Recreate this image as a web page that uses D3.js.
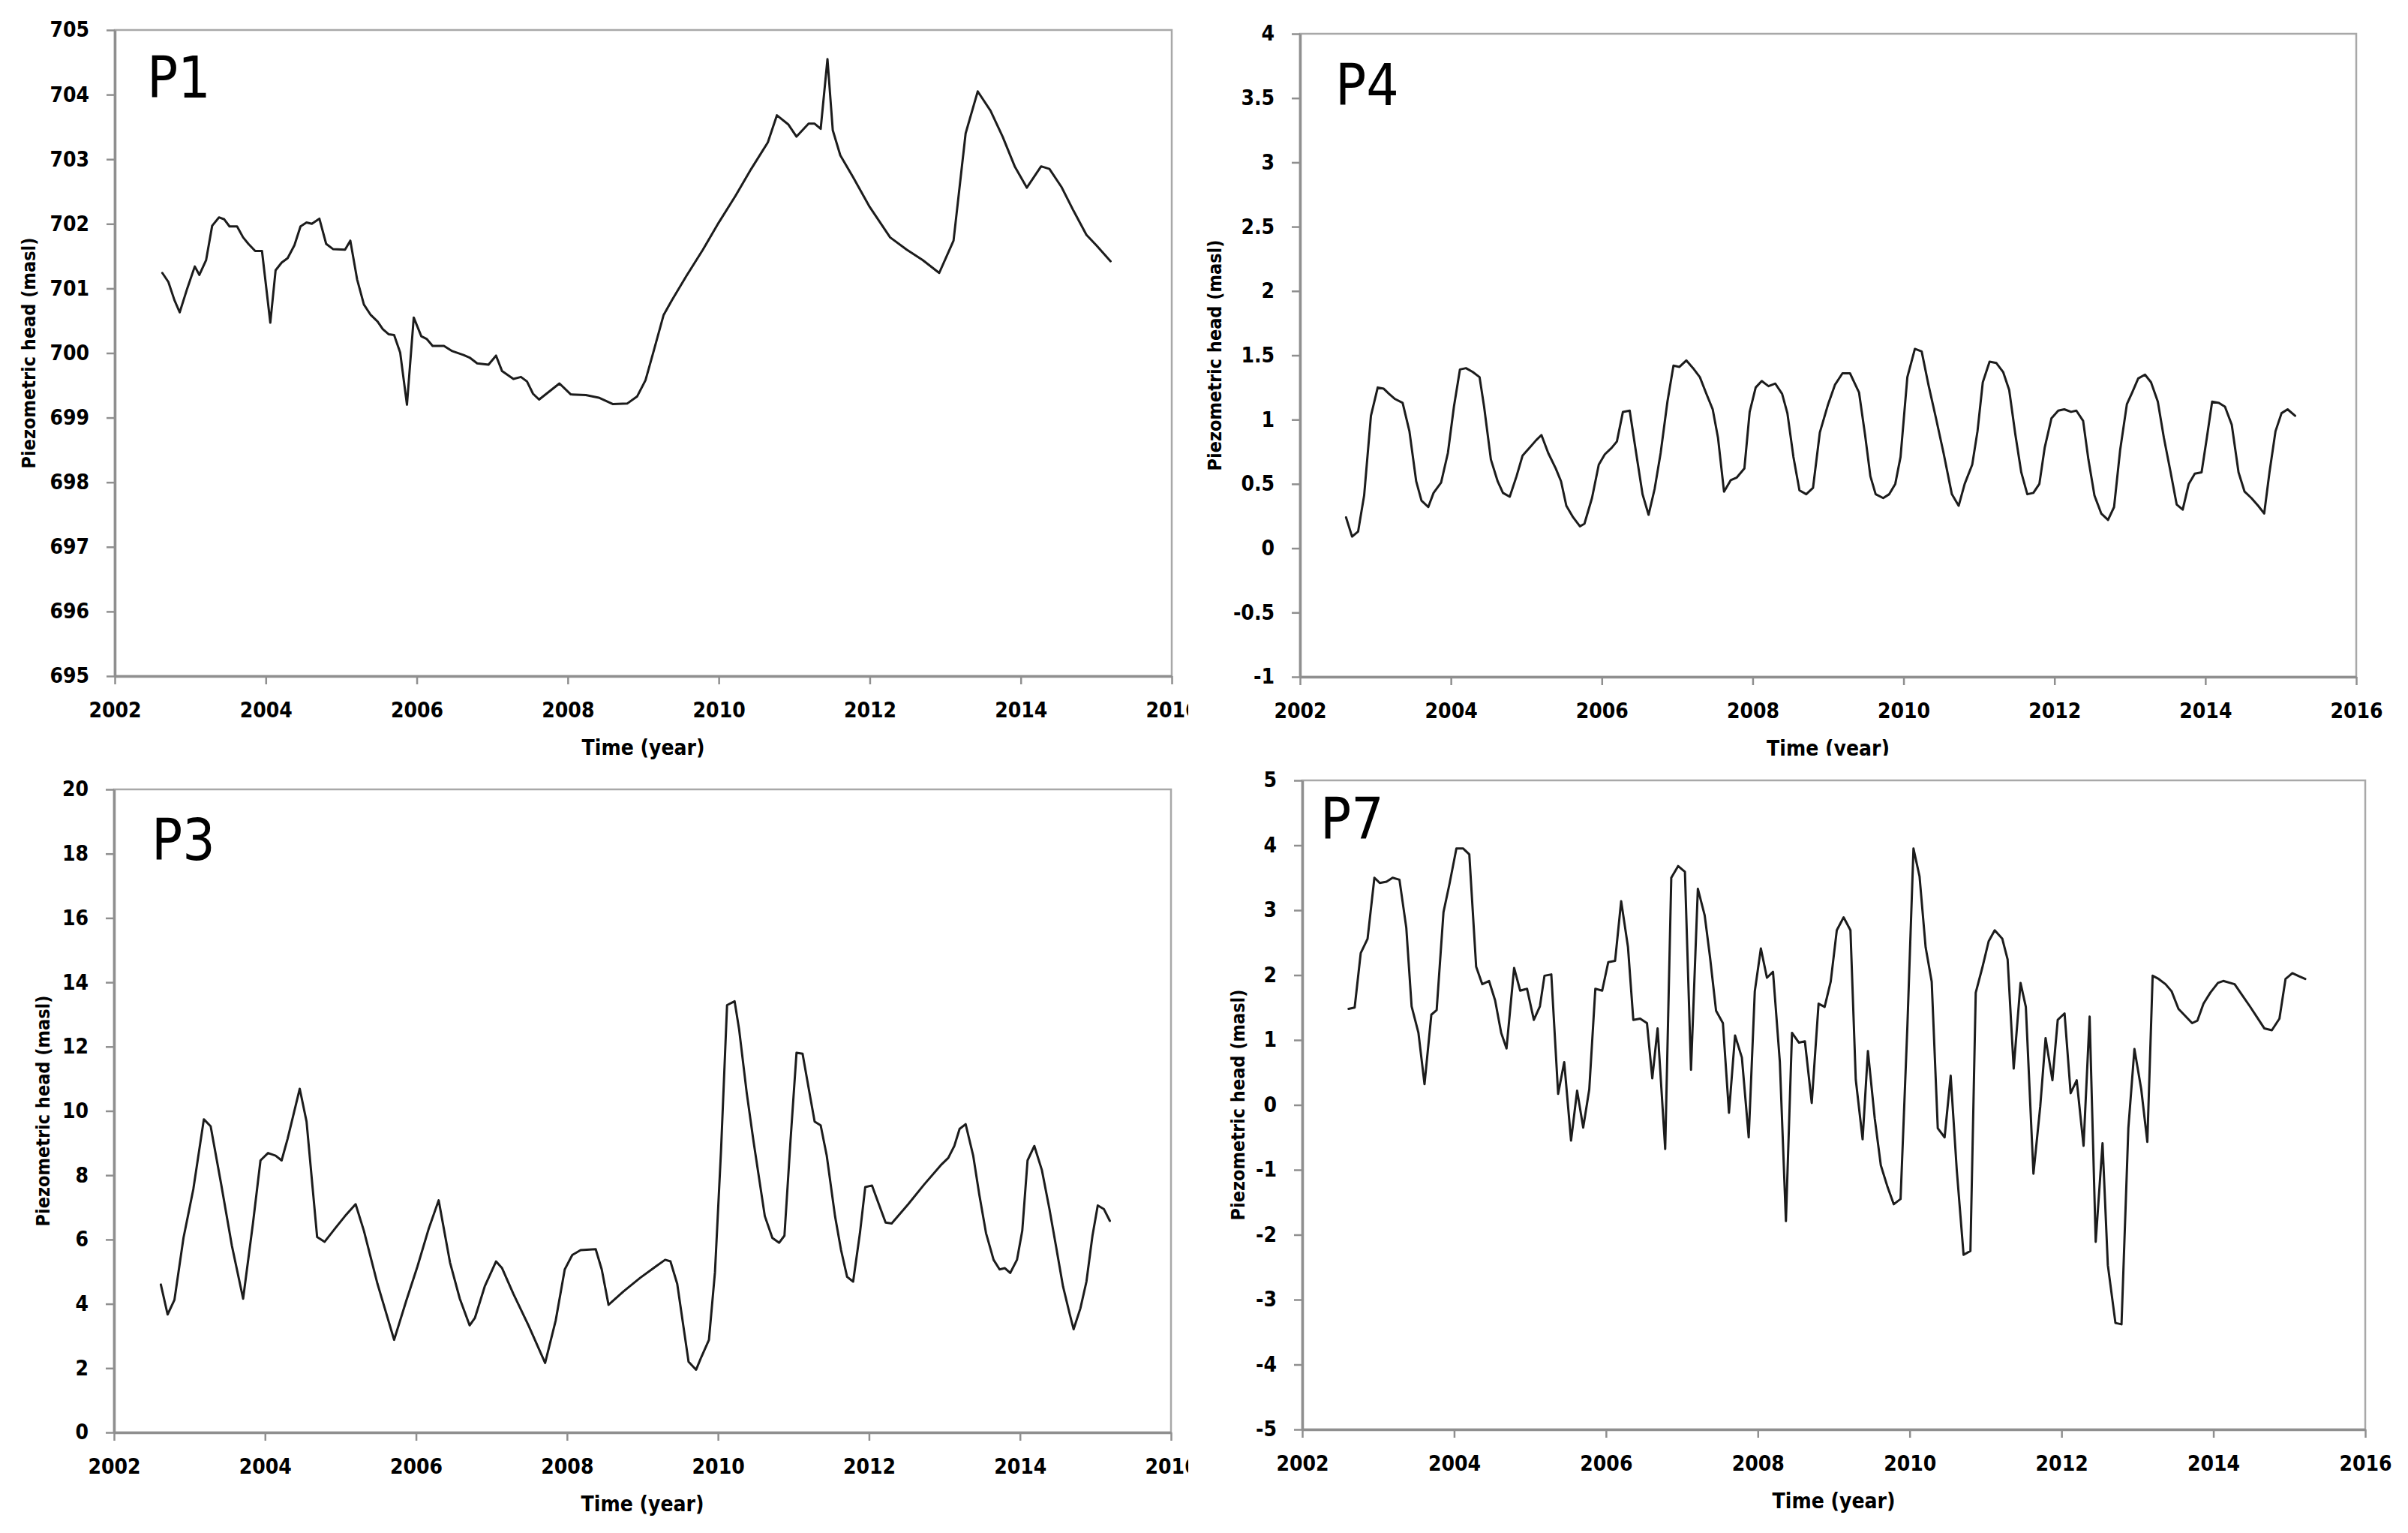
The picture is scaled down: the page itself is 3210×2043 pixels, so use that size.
<!DOCTYPE html>
<html>
<head>
<meta charset="utf-8">
<script src="https://cdn.jsdelivr.net/npm/d3@7"></script>
<style>
  html, body { margin: 0; padding: 0; background: #ffffff; }
  svg { display: block; }
  .tick text, .axis-title, .y-title {
    font-family: 'DejaVu Sans Condensed', 'DejaVu Sans', sans-serif;
    font-stretch: condensed;
    font-weight: bold;
    fill: #000;
  }
  .panel-name {
    font-family: 'DejaVu Sans Condensed', 'DejaVu Sans', sans-serif;
    font-stretch: condensed;
    font-weight: normal;
    fill: #000;
  }
</style>
</head>
<body>
<svg id="chart" width="3210" height="2043"></svg>
<script>
// ---------------- DATA ----------------
const yearTicks = [2002, 2004, 2006, 2008, 2010, 2012, 2014, 2016];

const p1Ticks = [695, 696, 697, 698, 699, 700, 701, 702, 703, 704, 705];
const p4Ticks = [-1, -0.5, 0, 0.5, 1, 1.5, 2, 2.5, 3, 3.5, 4];
const p3Ticks = [0, 2, 4, 6, 8, 10, 12, 14, 16, 18, 20];
const p7Ticks = [-5, -4, -3, -2, -1, 0, 1, 2, 3, 4, 5];

const p1Years = [2002.63,2002.71,2002.79,2002.86,2002.96,2003.06,2003.12,2003.21,2003.29,2003.38,2003.45,2003.52,2003.62,2003.70,2003.77,2003.86,2003.95,2004.06,2004.13,2004.21,2004.29,2004.38,2004.46,2004.54,2004.61,2004.71,2004.80,2004.89,2005.05,2005.12,2005.21,2005.30,2005.39,2005.48,2005.55,2005.63,2005.70,2005.78,2005.87,2005.96,2006.06,2006.13,2006.21,2006.36,2006.47,2006.62,2006.70,2006.80,2006.95,2007.05,2007.13,2007.28,2007.38,2007.46,2007.54,2007.62,2007.89,2008.04,2008.24,2008.41,2008.60,2008.79,2008.92,2009.03,2009.14,2009.27,2009.38,2009.57,2009.79,2010.00,2010.22,2010.43,2010.65,2010.77,2010.92,2011.03,2011.19,2011.27,2011.35,2011.44,2011.51,2011.61,2011.78,2012.00,2012.27,2012.49,2012.70,2012.92,2013.11,2013.27,2013.43,2013.60,2013.76,2013.92,2014.08,2014.27,2014.38,2014.54,2014.70,2014.87,2015.00,2015.19];
const p1Values = [701.24,701.10,700.82,700.63,701.00,701.34,701.21,701.44,701.97,702.10,702.07,701.96,701.96,701.79,701.69,701.58,701.58,700.47,701.28,701.40,701.47,701.67,701.96,702.02,702.00,702.08,701.69,701.61,701.60,701.74,701.14,700.75,700.59,700.49,700.37,700.29,700.28,700.01,699.20,700.55,700.26,700.22,700.11,700.11,700.03,699.97,699.93,699.84,699.82,699.96,699.72,699.60,699.63,699.56,699.37,699.28,699.53,699.36,699.35,699.31,699.21,699.22,699.33,699.58,700.04,700.59,700.82,701.19,701.60,702.02,702.43,702.85,703.26,703.68,703.54,703.35,703.55,703.55,703.47,704.55,703.45,703.06,702.72,702.26,701.79,701.60,701.44,701.24,701.74,703.40,704.05,703.75,703.35,702.89,702.56,702.89,702.85,702.57,702.20,701.83,701.67,701.42];

const p4Years = [2002.61,2002.69,2002.77,2002.85,2002.94,2003.03,2003.11,2003.18,2003.26,2003.36,2003.45,2003.54,2003.61,2003.70,2003.77,2003.87,2003.96,2004.04,2004.12,2004.20,2004.29,2004.38,2004.44,2004.53,2004.62,2004.69,2004.78,2004.87,2004.95,2005.04,2005.13,2005.20,2005.29,2005.39,2005.46,2005.53,2005.62,2005.71,2005.77,2005.87,2005.96,2006.04,2006.13,2006.20,2006.28,2006.37,2006.45,2006.54,2006.62,2006.70,2006.78,2006.87,2006.95,2007.03,2007.12,2007.21,2007.30,2007.38,2007.47,2007.54,2007.62,2007.71,2007.79,2007.89,2007.96,2008.04,2008.12,2008.21,2008.30,2008.39,2008.46,2008.54,2008.62,2008.71,2008.80,2008.89,2009.00,2009.09,2009.19,2009.29,2009.41,2009.49,2009.56,2009.63,2009.73,2009.81,2009.89,2009.96,2010.05,2010.15,2010.24,2010.33,2010.43,2010.53,2010.64,2010.73,2010.81,2010.91,2010.98,2011.05,2011.14,2011.23,2011.32,2011.40,2011.48,2011.56,2011.64,2011.72,2011.80,2011.87,2011.96,2012.05,2012.13,2012.22,2012.29,2012.38,2012.45,2012.53,2012.62,2012.71,2012.79,2012.87,2012.96,2013.03,2013.11,2013.20,2013.28,2013.37,2013.45,2013.54,2013.62,2013.70,2013.78,2013.86,2013.95,2014.02,2014.09,2014.18,2014.26,2014.35,2014.44,2014.52,2014.61,2014.70,2014.78,2014.85,2014.93,2015.01,2015.09,2015.19];
const p4Values = [0.24,0.09,0.13,0.41,1.03,1.25,1.24,1.20,1.16,1.13,0.91,0.52,0.37,0.32,0.43,0.51,0.74,1.10,1.39,1.40,1.37,1.33,1.10,0.69,0.52,0.43,0.40,0.56,0.72,0.78,0.84,0.88,0.74,0.62,0.52,0.33,0.24,0.17,0.19,0.39,0.65,0.73,0.78,0.83,1.06,1.07,0.76,0.42,0.26,0.46,0.74,1.14,1.42,1.41,1.46,1.40,1.33,1.21,1.08,0.86,0.44,0.53,0.55,0.62,1.06,1.25,1.30,1.26,1.28,1.20,1.05,0.71,0.45,0.42,0.47,0.90,1.12,1.27,1.36,1.36,1.21,0.88,0.56,0.42,0.39,0.42,0.50,0.71,1.33,1.55,1.53,1.27,1.01,0.74,0.42,0.33,0.50,0.65,0.91,1.29,1.45,1.44,1.37,1.23,0.89,0.59,0.42,0.43,0.50,0.78,1.01,1.07,1.08,1.06,1.07,0.99,0.69,0.41,0.27,0.22,0.32,0.76,1.12,1.21,1.32,1.35,1.29,1.14,0.86,0.59,0.34,0.30,0.50,0.58,0.59,0.86,1.14,1.13,1.10,0.96,0.59,0.44,0.39,0.33,0.27,0.59,0.91,1.05,1.08,1.03];

const p3Years = [2002.62,2002.71,2002.80,2002.92,2003.05,2003.19,2003.28,2003.42,2003.56,2003.71,2003.84,2003.94,2004.04,2004.14,2004.22,2004.30,2004.46,2004.55,2004.69,2004.79,2004.93,2005.06,2005.20,2005.31,2005.49,2005.71,2005.87,2006.02,2006.17,2006.30,2006.45,2006.58,2006.71,2006.78,2006.91,2007.06,2007.14,2007.29,2007.49,2007.71,2007.85,2007.97,2008.07,2008.18,2008.38,2008.46,2008.55,2008.75,2008.97,2009.18,2009.30,2009.37,2009.46,2009.61,2009.71,2009.78,2009.88,2009.96,2010.04,2010.12,2010.22,2010.28,2010.38,2010.47,2010.62,2010.72,2010.81,2010.88,2010.96,2011.04,2011.12,2011.20,2011.28,2011.36,2011.44,2011.55,2011.63,2011.71,2011.79,2011.88,2011.95,2012.04,2012.13,2012.22,2012.30,2012.52,2012.73,2012.95,2013.05,2013.13,2013.20,2013.28,2013.38,2013.46,2013.55,2013.65,2013.73,2013.80,2013.87,2013.96,2014.03,2014.10,2014.19,2014.29,2014.39,2014.48,2014.57,2014.66,2014.71,2014.80,2014.88,2014.96,2015.03,2015.11,2015.19];
const p3Values = [4.60,3.67,4.12,6.05,7.56,9.74,9.52,7.71,5.82,4.16,6.50,8.46,8.69,8.61,8.46,9.14,10.69,9.67,6.08,5.93,6.35,6.73,7.10,6.27,4.62,2.88,4.09,5.17,6.35,7.22,5.29,4.16,3.33,3.56,4.54,5.32,5.11,4.31,3.33,2.16,3.48,5.07,5.52,5.67,5.70,5.07,3.97,4.39,4.81,5.17,5.37,5.32,4.62,2.20,1.95,2.35,2.88,4.99,8.76,13.29,13.41,12.53,10.57,9.06,6.73,6.05,5.90,6.12,9.06,11.81,11.78,10.72,9.67,9.55,8.61,6.73,5.67,4.84,4.69,6.20,7.63,7.68,7.10,6.53,6.50,7.10,7.71,8.31,8.54,8.91,9.44,9.59,8.61,7.41,6.20,5.37,5.07,5.11,4.96,5.37,6.27,8.46,8.91,8.16,6.95,5.75,4.54,3.67,3.21,3.86,4.69,6.12,7.06,6.95,6.58];

const p7Years = [2002.61,2002.69,2002.77,2002.86,2002.95,2003.02,2003.11,2003.19,2003.28,2003.37,2003.44,2003.53,2003.61,2003.70,2003.77,2003.86,2003.94,2004.03,2004.12,2004.20,2004.29,2004.37,2004.46,2004.54,2004.62,2004.69,2004.79,2004.87,2004.96,2005.05,2005.13,2005.19,2005.28,2005.37,2005.45,2005.54,2005.62,2005.70,2005.78,2005.86,2005.95,2006.03,2006.12,2006.20,2006.29,2006.36,2006.45,2006.54,2006.61,2006.68,2006.78,2006.86,2006.95,2007.04,2007.12,2007.21,2007.30,2007.37,2007.45,2007.54,2007.62,2007.70,2007.79,2007.88,2007.96,2008.04,2008.12,2008.20,2008.29,2008.37,2008.45,2008.54,2008.62,2008.71,2008.80,2008.88,2008.96,2009.04,2009.13,2009.22,2009.29,2009.38,2009.45,2009.54,2009.62,2009.71,2009.79,2009.88,2009.97,2010.05,2010.13,2010.21,2010.29,2010.37,2010.46,2010.54,2010.62,2010.71,2010.80,2010.87,2010.96,2011.04,2011.12,2011.22,2011.29,2011.37,2011.46,2011.53,2011.63,2011.72,2011.79,2011.88,2011.95,2012.04,2012.12,2012.20,2012.29,2012.37,2012.45,2012.54,2012.61,2012.71,2012.79,2012.88,2012.96,2013.05,2013.13,2013.20,2013.28,2013.37,2013.45,2013.54,2013.63,2013.72,2013.79,2013.87,2013.96,2014.06,2014.13,2014.28,2014.38,2014.48,2014.57,2014.67,2014.77,2014.87,2014.95,2015.04,2015.13,2015.21];
const p7Values = [1.48,1.50,2.34,2.56,3.50,3.42,3.44,3.50,3.47,2.73,1.52,1.11,0.32,1.39,1.46,2.97,3.41,3.95,3.95,3.86,2.13,1.86,1.91,1.61,1.11,0.87,2.11,1.76,1.79,1.31,1.52,1.99,2.01,0.17,0.66,-0.55,0.22,-0.35,0.24,1.79,1.76,2.20,2.22,3.14,2.43,1.31,1.33,1.26,0.41,1.18,-0.68,3.50,3.68,3.59,0.54,3.33,2.92,2.28,1.45,1.26,-0.12,1.07,0.73,-0.50,1.75,2.41,1.96,2.05,0.66,-1.79,1.11,0.96,0.98,0.03,1.56,1.51,1.90,2.69,2.89,2.69,0.39,-0.53,0.83,-0.21,-0.93,-1.27,-1.53,-1.45,1.22,3.95,3.52,2.43,1.90,-0.36,-0.50,0.45,-1.00,-2.31,-2.25,1.73,2.13,2.52,2.69,2.56,2.24,0.56,1.88,1.51,-1.06,-0.02,1.03,0.38,1.31,1.41,0.18,0.38,-0.63,1.36,-2.11,-0.59,-2.47,-3.36,-3.38,-0.36,0.86,0.24,-0.57,1.99,1.94,1.86,1.75,1.48,1.37,1.26,1.30,1.56,1.73,1.88,1.91,1.86,1.69,1.52,1.36,1.18,1.15,1.33,1.94,2.03,1.98,1.94];

const panelNames = ["P1", "P4", "P3", "P7"];
const yAxisTitle = "Piezometric head (masl)";
const xAxisTitle = "Time (year)";

// ---------------- LAYOUT ----------------
const layout = {
  P1: { l: 153,  r: 1562, t: 40,   b: 901,  yt: 38,   nx: 196,  ny: 130,  clip: [0, 0, 1584, 1030] },
  P4: { l: 1733, r: 3141, t: 45,   b: 902,  yt: 1619, nx: 1780, ny: 140,  clip: [1590, 0, 1620, 1007] },
  P3: { l: 152,  r: 1561, t: 1052, b: 1909, yt: 57,   nx: 202,  ny: 1146, clip: [0, 1030, 1584, 1013] },
  P7: { l: 1736, r: 3153, t: 1040, b: 1905, yt: 1650, nx: 1760, ny: 1118, clip: [1590, 1015, 1620, 1028] }
};

const series = {
  P1: { years: p1Years, values: p1Values, ticks: p1Ticks },
  P4: { years: p4Years, values: p4Values, ticks: p4Ticks },
  P3: { years: p3Years, values: p3Values, ticks: p3Ticks },
  P7: { years: p7Years, values: p7Values, ticks: p7Ticks }
};

const axisColor = "#8f8f8f";
const borderColor = "#a8a8a8";
const lineColor = "#1c1c1c";

const svg = d3.select("#chart");
const defs = svg.append("defs");

panelNames.forEach(name => {
  const L = layout[name];
  const S = series[name];

  defs.append("clipPath").attr("id", "clip-" + name)
    .append("rect")
    .attr("x", L.clip[0]).attr("y", L.clip[1])
    .attr("width", L.clip[2]).attr("height", L.clip[3]);

  const g = svg.append("g").attr("clip-path", "url(#clip-" + name + ")");

  const x = d3.scaleLinear().domain([2002, 2016]).range([L.l, L.r]);
  const y = d3.scaleLinear().domain(d3.extent(S.ticks)).range([L.b, L.t]);

  // plot box (top & right borders)
  g.append("rect")
    .attr("x", L.l).attr("y", L.t)
    .attr("width", L.r - L.l).attr("height", L.b - L.t)
    .attr("fill", "none")
    .attr("stroke", borderColor)
    .attr("stroke-width", 2.5);

  // y axis
  const yAxis = d3.axisLeft(y)
    .tickValues(S.ticks)
    .tickFormat(d => String(d))
    .tickSize(11)
    .tickSizeOuter(0)
    .tickPadding(23);
  const gy = g.append("g").attr("transform", `translate(${L.l},0)`).call(yAxis);
  gy.select(".domain").attr("stroke", axisColor).attr("stroke-width", 3.5);
  gy.selectAll(".tick line").attr("stroke", axisColor).attr("stroke-width", 2.5);
  gy.selectAll(".tick text").attr("font-size", 28).attr("fill", "#000");

  // x axis
  const xAxis = d3.axisBottom(x)
    .tickValues(yearTicks)
    .tickFormat(d3.format("d"))
    .tickSize(11)
    .tickSizeOuter(0)
    .tickPadding(24);
  const gx = g.append("g").attr("transform", `translate(0,${L.b})`).call(xAxis);
  gx.select(".domain").attr("stroke", axisColor).attr("stroke-width", 3.5);
  gx.selectAll(".tick line").attr("stroke", axisColor).attr("stroke-width", 2.5);
  gx.selectAll(".tick text").attr("font-size", 28).attr("fill", "#000");

  // series line
  const pts = S.years.map((yr, i) => [yr, S.values[i]]);
  const line = d3.line().x(d => x(d[0])).y(d => y(d[1]));
  g.append("path")
    .datum(pts)
    .attr("d", line)
    .attr("fill", "none")
    .attr("stroke", lineColor)
    .attr("stroke-width", 3)
    .attr("stroke-linejoin", "round")
    .attr("stroke-linecap", "round");

  // panel name
  g.append("text")
    .attr("class", "panel-name")
    .attr("x", L.nx).attr("y", L.ny)
    .attr("font-size", 76)
    .text(name);

  // x axis title
  g.append("text")
    .attr("class", "axis-title")
    .attr("x", (L.l + L.r) / 2)
    .attr("y", L.b + 105)
    .attr("text-anchor", "middle")
    .attr("font-size", 28)
    .text(xAxisTitle);

  // y axis title
  g.append("text")
    .attr("class", "y-title")
    .attr("transform", `translate(${L.yt},${(L.t + L.b) / 2}) rotate(-90)`)
    .attr("text-anchor", "middle")
    .attr("dy", "0.35em")
    .attr("font-size", 25)
    .text(yAxisTitle);
});
</script>
</body>
</html>
